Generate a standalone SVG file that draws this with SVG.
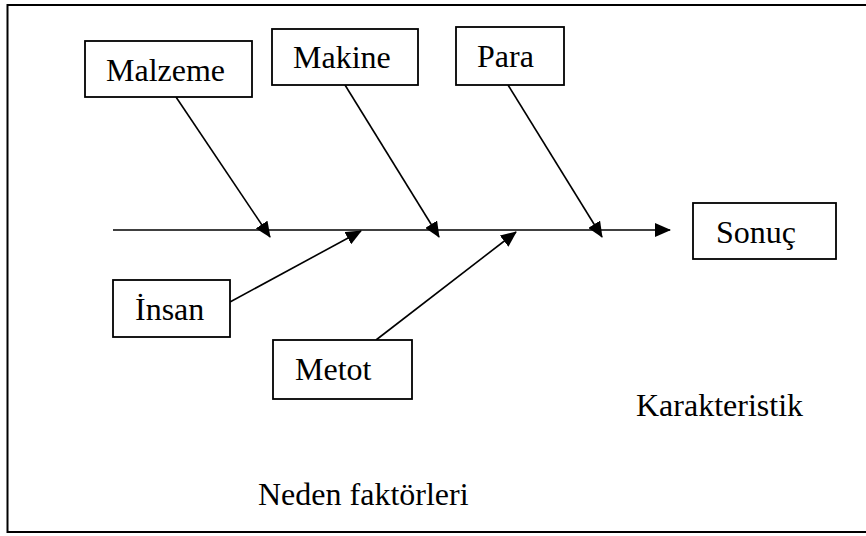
<svg xmlns="http://www.w3.org/2000/svg" width="866" height="536" viewBox="0 0 866 536">
  <style>
    .box { fill: #ffffff; stroke: #000000; stroke-width: 1.8; }
    .lbl { font-family: 'Liberation Serif', 'Times New Roman', serif; font-size: 32px; fill: #000000; }
    .ln { stroke: #000000; stroke-width: 1.6; fill: none; marker-end: url(#arr); }
  </style>
  <defs>
    <marker id="arr" markerUnits="userSpaceOnUse" markerWidth="16" markerHeight="14" refX="15" refY="7" orient="auto">
      <path d="M0,0 L16,7 L0,14 Z" fill="#000000"/>
    </marker>
  </defs>
  <rect x="0" y="0" width="866" height="536" fill="#ffffff"/>
  <path d="M870,5 H7.5 V532 H870" fill="none" stroke="#000000" stroke-width="2"/>

  <g id="connectors">
    <line class="ln" x1="113" y1="230" x2="670" y2="230"/>
    <line class="ln" x1="176" y1="97" x2="270" y2="237"/>
    <line class="ln" x1="345" y1="85" x2="439" y2="237"/>
    <line class="ln" x1="508" y1="85" x2="602" y2="237"/>
    <line class="ln" x1="230" y1="302" x2="361" y2="231"/>
    <line class="ln" x1="376" y1="340" x2="516" y2="232"/>
  </g>

  <g id="malzeme">
    <rect class="box" x="85" y="41" width="167" height="56"/>
    <text class="lbl" x="106" y="81">Malzeme</text>
  </g>
  <g id="makine">
    <rect class="box" x="272" y="29" width="146" height="56"/>
    <text class="lbl" x="293" y="68">Makine</text>
  </g>
  <g id="para">
    <rect class="box" x="456" y="27" width="108" height="58"/>
    <text class="lbl" x="477" y="67">Para</text>
  </g>
  <g id="sonuc">
    <rect class="box" x="693" y="203" width="143" height="56"/>
    <text class="lbl" x="716" y="243">Sonuç</text>
  </g>
  <g id="insan">
    <rect class="box" x="113" y="280" width="117" height="57"/>
    <text class="lbl" x="135" y="320">İnsan</text>
  </g>
  <g id="metot">
    <rect class="box" x="273" y="340" width="139" height="59"/>
    <text class="lbl" x="295" y="380">Metot</text>
  </g>
  <g id="karakteristik">
    <text class="lbl" x="636" y="416">Karakteristik</text>
  </g>
  <g id="neden">
    <text class="lbl" x="258" y="505">Neden faktörleri</text>
  </g>
</svg>
